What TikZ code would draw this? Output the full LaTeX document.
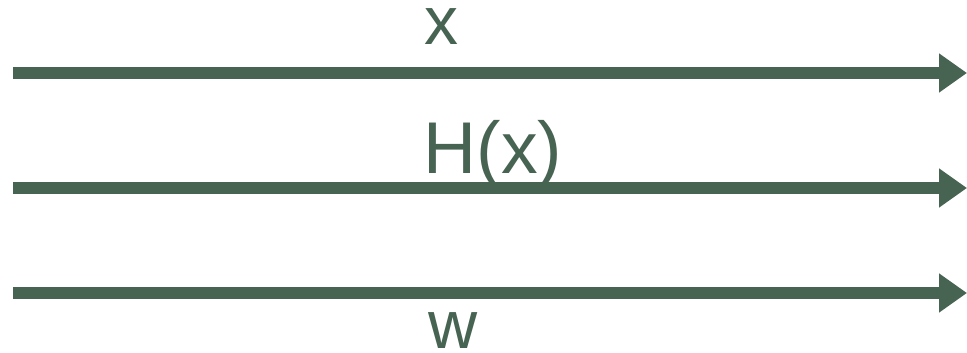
\documentclass[tikz,border=0pt]{standalone}
\usepackage{fontspec}
\setmainfont{Liberation Sans}
\usetikzlibrary{arrows.meta}
\definecolor{dg}{HTML}{476352}
\begin{document}
\begin{tikzpicture}[x=0.75pt,y=-0.75pt,
  flow/.style={draw=dg,line width=9pt,-{Triangle[length=21pt,width=28pt]}},
  lbl/.style={text=dg,inner sep=0pt,anchor=base,font=\fontsize{51}{51}\selectfont},
  biglbl/.style={lbl,font=\fontsize{55}{55}\selectfont}]
\useasboundingbox (0,0) rectangle (967,353);
\coordinate (a1) at (13,73);
\coordinate (b1) at (967,73);
\coordinate (a2) at (13,188);
\coordinate (b2) at (967,188);
\coordinate (a3) at (13,293);
\coordinate (b3) at (967,293);
\draw[flow] (a1) -- (b1);
\draw[flow] (a2) -- (b2);
\draw[flow] (a3) -- (b3);
\node[lbl] (lx) at (441,45) {x};
\node[biglbl] (lh) at (493,173) {H(x)};
\node[lbl] (lw) at (453,348) {w};
\end{tikzpicture}
\end{document}
